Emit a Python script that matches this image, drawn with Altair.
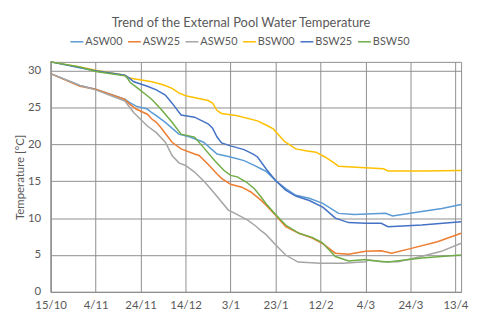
import altair as alt
import pandas as pd

series_names = ["ASW00", "ASW25", "ASW50", "BSW00", "BSW25", "BSW50"]
series_colors = ["#5B9BD5", "#ED7D31", "#A5A5A5", "#FFC000", "#4472C4", "#70AD47"]

tick_days = [0, 20, 40, 60, 80, 100, 120, 140, 160, 180]
tick_labels = ["15/10", "4/11", "24/11", "14/12", "3/1", "23/1", "12/2", "4/3", "24/3", "13/4"]
y_ticks = [0, 5, 10, 15, 20, 25, 30]
x_max = 182.5
y_max = 31.2

asw00_days = [0, 13, 20, 33, 35, 38, 43, 45, 47, 51, 57, 62, 68, 74, 80, 86, 91, 93.5, 96, 100, 104.5, 109, 115, 121, 128, 135, 149, 152, 165, 174, 182.5]
asw00_temp = [29.6, 28.0, 27.5, 26.15, 25.7, 25.2, 24.8, 24.3, 23.9, 23.0, 21.4, 21.0, 20.3, 18.7, 18.3, 17.8, 17.1, 16.7, 16.3, 15.1, 14.0, 13.1, 12.7, 12.0, 10.65, 10.5, 10.65, 10.3, 10.9, 11.3, 11.85]

asw25_days = [0, 13, 20, 33, 35, 38, 43, 45, 47, 49, 54, 58, 64, 66, 70, 74, 76, 80, 85, 89, 93.5, 95.7, 100, 104.5, 110.4, 116.3, 120.7, 126.6, 132.5, 140, 147, 151.6, 160.4, 172, 182.5]
asw25_temp = [29.6, 27.9, 27.5, 26.1, 25.5, 24.8, 24.1, 23.45, 23.0, 22.3, 20.3, 19.4, 18.7, 18.5, 17.3, 16.0, 15.4, 14.6, 14.2, 13.55, 12.45, 11.8, 10.4, 8.85, 7.95, 7.3, 6.6, 5.25, 5.1, 5.5, 5.57, 5.25, 5.9, 6.8, 7.95]

asw50_days = [0, 13, 20, 33, 37, 43, 47, 51, 54, 57, 60, 64, 68.5, 73, 79, 82, 87.6, 91.3, 93.5, 95.7, 100, 104.5, 110, 120, 130, 140, 141.3, 147, 154.5, 164.8, 173.7, 182.5]
asw50_temp = [29.6, 28.0, 27.4, 25.9, 24.3, 22.5, 21.6, 20.3, 18.5, 17.5, 17.15, 16.25, 14.9, 13.3, 11.1, 10.65, 9.74, 8.9, 8.3, 7.8, 6.4, 5.0, 4.05, 3.9, 3.9, 4.1, 4.35, 4.1, 4.1, 4.8, 5.5, 6.6]

bsw00_days = [0, 13, 20, 33, 35, 45, 50, 54, 57, 60, 70, 72, 74, 76, 83, 92, 96, 99, 104, 109, 114, 118, 122, 126, 128, 140, 148, 150, 165, 182.5]
bsw00_temp = [31.2, 30.5, 30.05, 29.4, 29.0, 28.5, 28.1, 27.6, 27.0, 26.6, 25.95, 25.6, 24.6, 24.2, 23.9, 23.2, 22.6, 22.1, 20.4, 19.4, 19.1, 18.95, 18.3, 17.5, 17.05, 16.85, 16.7, 16.4, 16.4, 16.45]

bsw25_days = [0, 13, 20, 33, 35, 37, 43, 47, 51, 54, 58, 64, 70, 72, 74, 76, 80, 86, 90, 92, 96, 100, 104.5, 109, 115, 121, 126.6, 132.5, 140, 147, 150, 165, 182.5]
bsw25_temp = [31.2, 30.4, 30.0, 29.4, 29.0, 28.5, 27.9, 27.4, 26.7, 25.6, 24.0, 23.7, 22.8, 22.2, 21.0, 20.2, 19.8, 19.3, 18.7, 18.3, 16.6, 15.1, 13.8, 13.0, 12.4, 11.5, 10.0, 9.4, 9.3, 9.3, 8.85, 9.07, 9.5]

bsw50_days = [0, 13, 20, 33, 34, 35.4, 38.4, 43, 45, 49, 54, 58, 64, 68.5, 73, 77, 80, 83, 87, 90.6, 93.5, 95.7, 100, 104.5, 110.4, 116.3, 120.7, 126.6, 132.5, 139.8, 141.3, 150, 165, 182.5]
bsw50_temp = [31.2, 30.5, 29.9, 29.3, 29.05, 28.4, 27.7, 26.6, 26.1, 24.8, 23.0, 21.4, 21.0, 19.4, 17.8, 16.5, 15.8, 15.6, 14.9, 14.0, 12.9, 12.0, 10.5, 9.07, 7.95, 7.4, 6.7, 4.8, 4.2, 4.4, 4.3, 4.05, 4.6, 5.0]

all_days = [asw00_days, asw25_days, asw50_days, bsw00_days, bsw25_days, bsw50_days]
all_temps = [asw00_temp, asw25_temp, asw50_temp, bsw00_temp, bsw25_temp, bsw50_temp]

rows = []
for name, ds, ts in zip(series_names, all_days, all_temps):
    for d, t in zip(ds, ts):
        rows.append({"series": name, "day": d, "temp": t})
df = pd.DataFrame(rows)

label_arr = "[" + ",".join("'" + s + "'" for s in tick_labels) + "]"
label_expr = label_arr + "[round(datum.value / 20)]"

FONT = "Lato"
GREY = "#595959"
GRID = "#8f8f8f"

chart = alt.Chart(df).mark_line(strokeWidth=1.5).encode(
    x=alt.X("day:Q",
            scale=alt.Scale(domain=[0, x_max], nice=False, zero=False),
            axis=alt.Axis(values=tick_days, labelExpr=label_expr, title=None,
                          grid=True, labelPadding=8, labelFontSize=11.5,
                          labelFlush=False, labelOverlap=False)),
    y=alt.Y("temp:Q",
            scale=alt.Scale(domain=[0, y_max], nice=False),
            axis=alt.Axis(values=y_ticks, title="Temperature [°C]", grid=True,
                          labelPadding=10, titlePadding=2, labelFontSize=11.5,
                          titleFontSize=11.5, titleFontWeight="normal",
                          labelFlush=False, labelOverlap=False)),
    color=alt.Color("series:N",
                    scale=alt.Scale(domain=series_names, range=series_colors),
                    legend=alt.Legend(title=None, orient="none", direction="horizontal",
                                      columns=6, legendX=19, legendY=-28,
                                      symbolType="stroke", symbolSize=169,
                                      symbolStrokeWidth=1.5, labelOffset=1,
                                      columnPadding=2, labelFontSize=11,
                                      labelColor=GREY, labelFont=FONT)),
).properties(
    width=414,
    height=232,
    title=alt.Title("Trend of the External Pool Water Temperature", fontSize=13,
                    font=FONT, color=GREY, fontWeight="normal", anchor="middle",
                    frame="group", dx=-15, offset=4),
    padding={"left": 6, "top": 8, "right": 4, "bottom": 4},
).configure_view(
    stroke=GRID, strokeWidth=1
).configure_axis(
    labelFont=FONT, titleFont=FONT, labelColor=GREY, titleColor=GREY,
    gridColor=GRID, gridWidth=1, gridOpacity=1, domainColor=GRID,
    tickSize=0
)

chart.save("out.html", embed_options={"renderer": "svg", "actions": False})
